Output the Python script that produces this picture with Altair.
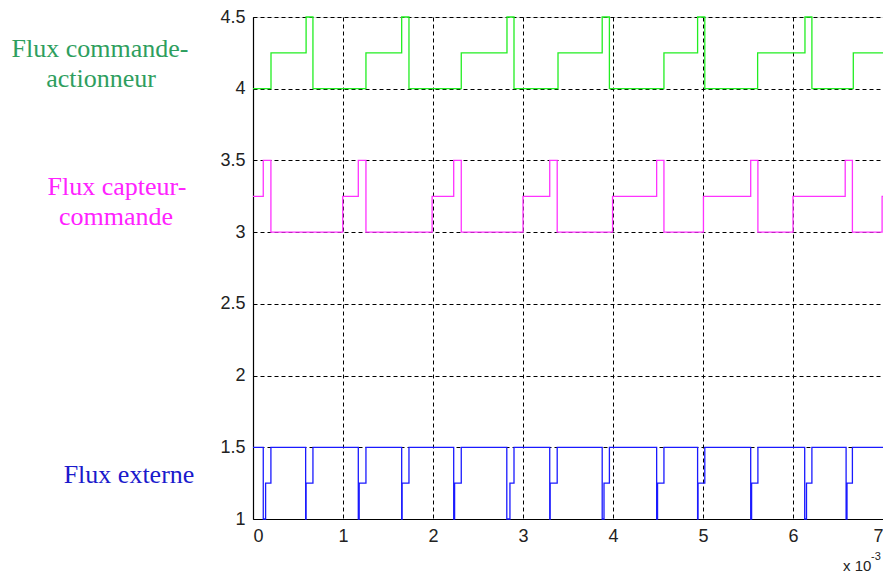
import altair as alt
import pandas as pd

# ---- data (time x10^-3, values) ----
green_t = [0, 0.2, 0.59, 0.666, 1.255, 1.652, 1.733, 2.314, 2.822, 2.9, 3.389,
           3.88, 3.96, 4.566, 4.94, 5.02, 5.607, 6.133, 6.21, 6.67, 7.0]
green_v = [4, 4.25, 4.5, 4, 4.25, 4.5, 4, 4.25, 4.5, 4, 4.25,
           4.5, 4, 4.25, 4.5, 4, 4.25, 4.5, 4, 4.25, 4.25]

pink_t = [0, 0.114, 0.199, 0.997, 1.17, 1.255, 1.99, 2.23, 2.314, 3.0, 3.297,
          3.38, 3.995, 4.485, 4.566, 5.005, 5.53, 5.61, 6.0, 6.58, 6.66, 6.99, 7.0]
pink_v = [3.25, 3.5, 3, 3.25, 3.5, 3, 3.25, 3.5, 3, 3.25, 3.5,
          3, 3.25, 3.5, 3, 3.25, 3.5, 3, 3.25, 3.5, 3, 3.25, 3.25]

blue_t = [0,
          0.114, 0.14, 0.199,
          0.585, 0.59, 0.666,
          1.17, 1.18, 1.255,
          1.652, 1.657, 1.733,
          2.23, 2.24, 2.314,
          2.82, 2.855, 2.9,
          3.297, 3.302, 3.38,
          3.88, 3.9, 3.96,
          4.485, 4.495, 4.566,
          4.94, 4.945, 5.02,
          5.53, 5.54, 5.61,
          6.13, 6.15, 6.21,
          6.59, 6.6, 6.66,
          7.0]
blue_v = [1.5,
          1, 1.25, 1.5,
          1, 1.25, 1.5,
          1, 1.25, 1.5,
          1, 1.25, 1.5,
          1, 1.25, 1.5,
          1, 1.25, 1.5,
          1, 1.25, 1.5,
          1, 1.25, 1.5,
          1, 1.25, 1.5,
          1, 1.25, 1.5,
          1, 1.25, 1.5,
          1, 1.25, 1.5,
          1, 1.25, 1.5,
          1.5]

series_names = ["commande-actionneur", "capteur-commande", "externe"]
series_colors = ["#22ee22", "#ff33ff", "#1a1aff"]
x_ticks = [0, 1, 2, 3, 4, 5, 6, 7]
y_ticks = [1, 1.5, 2, 2.5, 3, 3.5, 4, 4.5]

rows = []
for name, ts, vs in zip(series_names, [green_t, pink_t, blue_t], [green_v, pink_v, blue_v]):
    for i, (t, v) in enumerate(zip(ts, vs)):
        rows.append({"t": t, "v": v, "s": name, "i": i})
df = pd.DataFrame(rows)

W, H = 630, 502

x_scale = alt.Scale(domain=[0, 7], nice=False, zero=False)
y_scale = alt.Scale(domain=[1, 4.5], nice=False, zero=False)

lines = alt.Chart(df).mark_line(interpolate="step-after", strokeWidth=1.3, clip=False).encode(
    x=alt.X("t:Q", scale=x_scale, title=None,
            axis=alt.Axis(values=x_ticks, format="d", grid=True, gridDash=[4, 3],
                          gridColor="#000000", gridOpacity=1, ticks=False,
                          labelPadding=8, labelFont="Liberation Sans", labelFontSize=18,
                          labelColor="#222222", domainColor="#000000", domainWidth=1.2)),
    y=alt.Y("v:Q", scale=y_scale, title=None,
            axis=alt.Axis(values=y_ticks, grid=True, gridDash=[4, 3],
                          gridColor="#000000", gridOpacity=1, ticks=False,
                          labelPadding=8, labelFont="Liberation Sans", labelFontSize=18,
                          labelColor="#222222", domainColor="#000000", domainWidth=1.2,
                          labelExpr="datum.value")),
    color=alt.Color("s:N", scale=alt.Scale(domain=series_names, range=series_colors), legend=None),
    detail="s:N",
    order="i:Q",
)

label_font = "Liberation Serif"

def label(text, color, x, y):
    return alt.Chart(pd.DataFrame({"txt": [text]})).mark_text(
        font=label_font, fontSize=26, color=color, align="center",
        baseline="alphabetic", clip=False
    ).encode(text="txt:N", x=alt.value(x), y=alt.value(y))

labels = [
    label("Flux commande-", "#2e9e5e", -153, 40),
    label("actionneur", "#2e9e5e", -152, 70),
    label("Flux capteur-", "#ff22ff", -136, 178),
    label("commande", "#ff22ff", -137, 208),
    label("Flux externe", "#1a1acc", -124, 466),
]

exp1 = alt.Chart(pd.DataFrame({"txt": ["x 10"]})).mark_text(
    font="Liberation Sans", fontSize=15, color="#222222", align="left", baseline="alphabetic"
).encode(text="txt:N", x=alt.value(590), y=alt.value(554))
exp2 = alt.Chart(pd.DataFrame({"txt": ["-3"]})).mark_text(
    font="Liberation Sans", fontSize=11, color="#222222", align="left", baseline="alphabetic"
).encode(text="txt:N", x=alt.value(618), y=alt.value(543))

chart = alt.layer(lines, *labels, exp1, exp2).properties(
    width=W, height=H,
    autosize=alt.AutoSizeParams(type="none"),
    padding={"left": 245, "top": 9, "right": 0, "bottom": 54},
).configure_view(stroke="#000000", strokeWidth=1.2).configure(background="#ffffff")

chart.save("out.html", embed_options={"renderer": "svg", "actions": False})
